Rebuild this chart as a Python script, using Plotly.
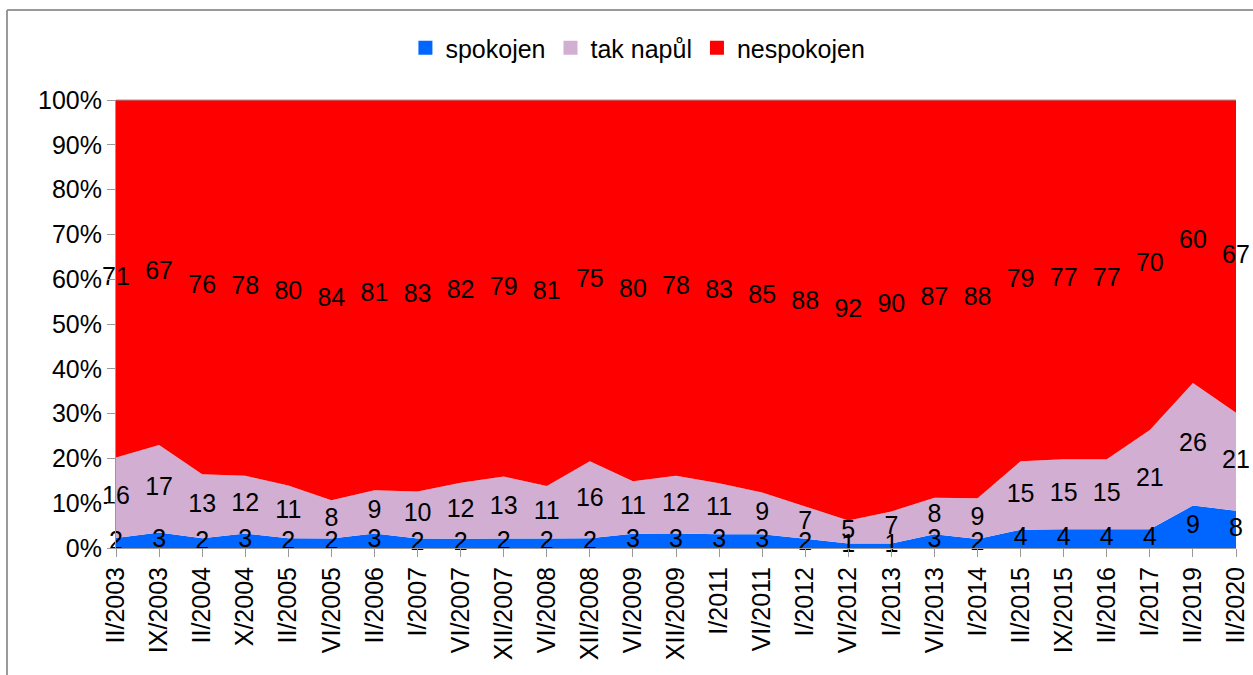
import plotly.graph_objects as go

categories = ["II/2003", "IX/2003", "II/2004", "X/2004", "II/2005", "VI/2005", "II/2006",
              "I/2007", "VI/2007", "XII/2007", "VI/2008", "XII/2008", "VI/2009", "XII/2009",
              "I/2011", "VI/2011", "I/2012", "VI/2012", "I/2013", "VI/2013", "I/2014",
              "II/2015", "IX/2015", "II/2016", "I/2017", "II/2019", "II/2020"]
spokojen = [2, 3, 2, 3, 2, 2, 3, 2, 2, 2, 2, 2, 3, 3, 3, 3, 2, 1, 1, 3, 2, 4, 4, 4, 4, 9, 8]
tak_napul = [16, 17, 13, 12, 11, 8, 9, 10, 12, 13, 11, 16, 11, 12, 11, 9, 7, 5, 7, 8, 9, 15, 15, 15, 21, 26, 21]
nespokojen = [71, 67, 76, 78, 80, 84, 81, 83, 82, 79, 81, 75, 80, 78, 83, 85, 88, 92, 90, 87, 88, 79, 77, 77, 70, 60, 67]

series = [("spokojen", spokojen, "#0066FF"),
          ("tak napůl", tak_napul, "#D2AED2"),
          ("nespokojen", nespokojen, "#FF0000")]

FONT = "Liberation Sans, Arial, sans-serif"
xs = list(range(len(categories)))
totals = [a + b + c for a, b, c in zip(spokojen, tak_napul, nespokojen)]

fig = go.Figure()
for name, vals, col in series:
    fig.add_trace(go.Scatter(
        x=xs, y=vals, name=name, stackgroup="one", groupnorm="percent",
        mode="none", fillcolor=col, line=dict(width=0), hoverinfo="skip",
        showlegend=False))

# legend entries as small squares
for name, vals, col in series:
    fig.add_trace(go.Scatter(
        x=[None], y=[None], name=name, mode="markers",
        marker=dict(symbol="square", size=14, color=col), showlegend=True))

# labels at the middle of each band (percent of total)
base = [0.0] * len(xs)
for name, vals, col in series:
    pct = [v / t * 100 for v, t in zip(vals, totals)]
    mids = [b + p / 2 for b, p in zip(base, pct)]
    base = [b + p for b, p in zip(base, pct)]
    fig.add_trace(go.Scatter(
        x=xs, y=mids, mode="text", text=[str(v) for v in vals],
        textposition="middle center", textfont=dict(family=FONT, size=25, color="black"),
        showlegend=False, hoverinfo="skip", cliponaxis=False))

fig.update_layout(
    width=1253, height=675,
    margin=dict(l=116, r=17, t=100, b=127, autoexpand=False),
    paper_bgcolor="white", plot_bgcolor="white",
    font=dict(family=FONT, size=25, color="black"),
    showlegend=True,
    legend=dict(orientation="h", x=0.466, xanchor="center", y=1.116, yanchor="middle",
                traceorder="normal", itemwidth=30,
                font=dict(family=FONT, size=25, color="black"),
                bgcolor="rgba(0,0,0,0)"),
    xaxis=dict(range=[0, len(categories) - 1], tickmode="array", tickvals=xs,
               ticktext=categories, tickangle=-90, showgrid=False, zeroline=False,
               showline=True, linecolor="#999999", linewidth=1, automargin=False,
               ticks="outside", ticklen=8, tickcolor="#999999",
               tickfont=dict(family=FONT, size=25, color="black")),
    yaxis=dict(range=[0, 100], tickmode="array", tickvals=list(range(0, 101, 10)),
               ticktext=[f"{v}%" for v in range(0, 101, 10)], showgrid=False,
               zeroline=False, showline=True, linecolor="#999999", linewidth=1,
               automargin=False, ticks="outside", ticklen=8, tickcolor="#999999",
               tickfont=dict(family=FONT, size=25, color="black")),
    shapes=[
        dict(type="line", xref="paper", yref="paper", x0=0, x1=1, y0=1, y1=1,
             line=dict(color="#999999", width=1), layer="above"),
        dict(type="line", xref="paper", yref="paper", x0=-0.0973, x1=1.2, y0=1.2009, y1=1.2009,
             line=dict(color="#999999", width=2)),
        dict(type="line", xref="paper", yref="paper", x0=-0.0973, x1=-0.0973, y0=1.2009, y1=-0.3,
             line=dict(color="#999999", width=2)),
    ],
)

fig.write_html("out.html", config={"displayModeBar": False},
               post_script="document.body.style.margin='0';document.body.style.overflow='hidden';")
